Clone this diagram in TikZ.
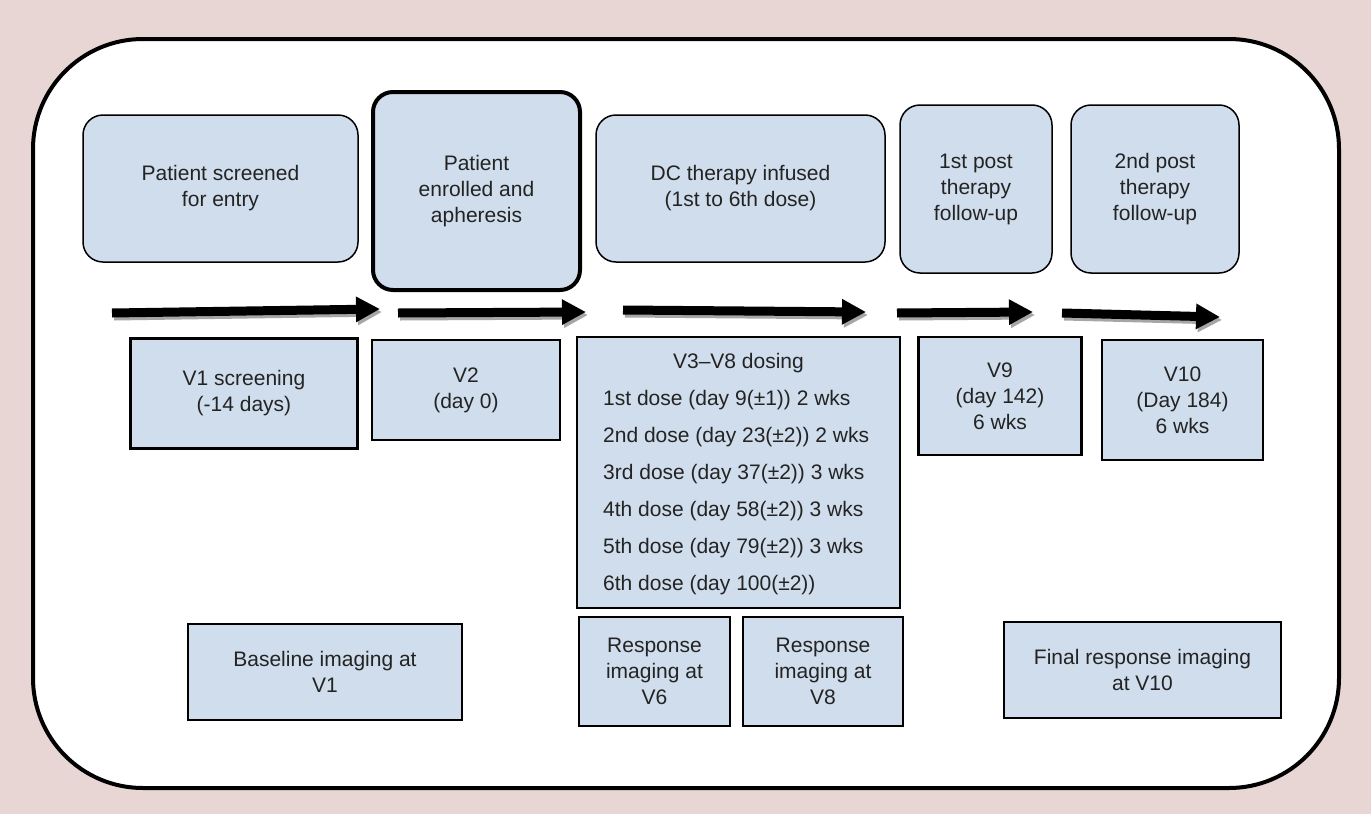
\documentclass[tikz,border=0pt]{standalone}
\usepackage{fontspec}
\setmainfont{Liberation Sans}
\usetikzlibrary{positioning, arrows.meta}
\definecolor{boxblue}{RGB}{208,221,236}
\definecolor{pagepink}{RGB}{232,214,212}
\definecolor{inkgray}{RGB}{35,35,35}

\begin{document}
\begin{tikzpicture}[x=1pt, y=-1pt, node font=\fontsize{21}{26}\selectfont,
                    every node/.style={text=inkgray, align=center, inner sep=0pt},
                    stage/.style={draw=black, fill=boxblue, line width=1.5pt, rounded corners=20pt},
                    visit/.style={draw=black, fill=boxblue, line width=2.2pt},
                    timeline/.style={line width=9pt, -{Triangle[length=24pt, width=24pt]}}]
                        \useasboundingbox[fill=pagepink] (0,0) rectangle (1371,814);
                        \draw[line width=4pt, fill=white, rounded corners=110pt] (33,39) rectangle (1339,788);
                        % stages
                        \node[stage, minimum width=275, minimum height=147] (screen) at (220.5,188.5) {Patient screened\\for entry};
                        \node[stage, line width=4pt, minimum width=207, minimum height=198] (enrol) at (476.5,191) {Patient\\enrolled and\\apheresis};
                        \node[stage, minimum width=289, minimum height=147] (infuse) at (740.5,188.5) {DC therapy infused\\(1st to 6th dose)};
                        \node[stage, minimum width=152, minimum height=168] (postA) at (976,189) {1st post\\therapy\\follow-up};
                        \node[stage, minimum width=168, minimum height=168] (postB) at (1155,189) {2nd post\\therapy\\follow-up};
                        % timeline
                        \coordinate (a1s) at (112,313); \coordinate (a1e) at (380,309);
                        \coordinate (a2s) at (398,313); \coordinate (a2e) at (586,312);
                        \coordinate (a3s) at (623,310); \coordinate (a3e) at (866,312);
                        \coordinate (a4s) at (897,313); \coordinate (a4e) at (1033,312);
                        \coordinate (a5s) at (1062,313); \coordinate (a5e) at (1220,317);
                        \foreach \s/\e in {a1s/a1e, a2s/a2e, a3s/a3e, a4s/a4e, a5s/a5e} {
                            \draw[timeline, black!35] ([shift={(2,3)}]\s) -- ([shift={(2,3)}]\e);
                            \draw[timeline] (\s) -- (\e);
                        }
                        % visits
                        \node[visit, minimum width=227, minimum height=110] (vone) at (244,393.5) {V1 screening\\(-14 days)};
                        \node[visit, minimum width=188, minimum height=100] (vtwo) at (466,390) {V2\\(day 0)};
                        \node[visit, minimum width=323, minimum height=271] (dosing) at (738.5,472.5) {};
                        \node (dosetitle) at (738.5,363) {V3–V8 dosing};
                        \foreach \txt [count=\i] in {1st dose (day 9(±1)) 2 wks, 2nd dose (day 23(±2)) 2 wks,
                                                     3rd dose (day 37(±2)) 3 wks, 4th dose (day 58(±2)) 3 wks,
                                                     5th dose (day 79(±2)) 3 wks, 6th dose (day 100(±2))}
                            \node[anchor=west] (dose\i) at (603,{363+37*\i}) {\txt};
                        \node[visit, minimum width=163, minimum height=118] (vnine) at (1000,396) {V9\\(day 142)\\6 wks};
                        \node[visit, minimum width=161, minimum height=120] (vten) at (1182.5,400) {V10\\(Day 184)\\6 wks};
                        % imaging
                        \node[visit, minimum width=274, minimum height=96] (baseimg) at (325,672) {Baseline imaging at\\V1};
                        \node[visit, minimum width=151, minimum height=109] (respsix) at (654.5,671.5) {Response\\imaging at\\V6};
                        \node[visit, minimum width=160, minimum height=109] (respeight) at (823,671.5) {Response\\imaging at\\V8};
                        \node[visit, minimum width=277, minimum height=96] (finalimg) at (1142.5,670) {Final response imaging\\at V10};
                    \end{tikzpicture}
\end{document}
